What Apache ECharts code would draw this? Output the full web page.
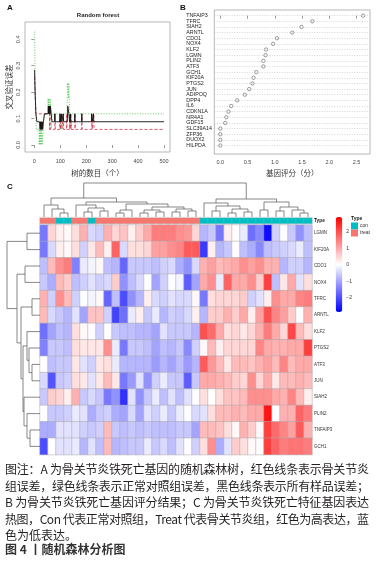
<!DOCTYPE html>
<html>
<head>
<meta charset="utf-8">
<script src="https://cdn.jsdelivr.net/npm/echarts@6/dist/echarts.min.js"></script>
<style>
  html, body { margin: 0; padding: 0; background: #fff; }
  #chart { position: absolute; left: 0; top: 0; width: 386px; height: 564px; }
  .cap { position: absolute; left: 5px; font-family: "Noto Sans CJK SC"; font-size: 12px; line-height: 14px;
         color: #231f20; white-space: nowrap; display: inline-block; }
</style>
</head>
<body>
<div id="chart"></div>
<div id="caption"></div>
<script>
// A: 随机森林误差曲线 [树的数目, 误差]
var conErr = [[1,0.429],[2,0.35],[3,0.26],[4,0.18],[5,0.12],[7,0.12],[8,0.059],[18,0.059],[19,0],[21,0.059],[22,0],[24,0],
  [25,0.059],[26,0],[28,0],[29,0.059],[30,0],[33,0],[34,0.059],[37,0.059],[38,0.118],[52,0.118],[53,0.176],[55,0.118],
  [56,0.176],[59,0.176],[60,0.118],[61,0.176],[63,0.176],[64,0.118],[65,0.059],[68,0.059],[69,0.118],[100,0.118],
  [101,0.059],[103,0.118],[110,0.118],[111,0.059],[112,0.118],[126,0.118],[127,0.176],[128,0.235],[131,0.235],
  [132,0.176],[133,0.235],[135,0.235],[136,0.118],[137,0.059],[139,0.059],[140,0.118],[142,0.118],[143,0.059],
  [144,0.118],[500,0.118]];
var treatErr = [[1,0.258],[2,0.23],[3,0.2],[4,0.17],[5,0.147],[6,0.118],[58,0.118],[59,0.059],[60,0.118],[61,0.059],
  [79,0.059],[80,0.118],[81,0.059],[98,0.059],[99,0.118],[100,0.059],[104,0.059],[105,0.118],[106,0.059],[111,0.059],
  [112,0.118],[113,0.059],[124,0.059],[125,0.118],[126,0.059],[136,0.059],[137,0.118],[138,0.059],[140,0.059],
  [141,0.118],[142,0.059],[156,0.059],[157,0.118],[158,0.059],[182,0.059],[183,0.118],[184,0.059],[221,0.059],
  [222,0.118],[223,0.059],[228,0.059],[229,0.118],[230,0.059],[500,0.059]];
var oobErr = [[1,0.284],[2,0.24],[3,0.2],[4,0.17],[5,0.147],[6,0.118],[9,0.118],[10,0.088],[20,0.088],[22,0.059],
  [24,0.088],[25,0.059],[27,0.088],[28,0.059],[30,0.059],[31,0.088],[32,0.059],[34,0.059],[35,0.088],[38,0.088],
  [39,0.118],[53,0.118],[54,0.147],[55,0.118],[56,0.147],[57,0.118],[58,0.147],[60,0.147],[61,0.118],[62,0.147],
  [64,0.147],[65,0.118],[67,0.118],[68,0.088],[78,0.088],[79,0.118],[80,0.088],[98,0.088],[99,0.118],[100,0.088],
  [103,0.088],[104,0.118],[106,0.088],[110,0.088],[111,0.118],[113,0.088],[127,0.088],[128,0.118],[129,0.147],
  [132,0.147],[133,0.118],[135,0.118],[136,0.088],[138,0.088],[139,0.118],[140,0.088],[155,0.088],[156,0.118],
  [157,0.088],[182,0.088],[183,0.118],[184,0.088],[220,0.088],[221,0.118],[223,0.088],[227,0.088],[228,0.118],
  [229,0.088],[500,0.088]];
var rfTicksX = [0, 100, 200, 300, 400, 500];
var rfTicksY = [0, 0.1, 0.2, 0.3, 0.4];

// B: 基因评分
var scoreGenes = ['TNFAIP3','TFRC','SIAH2','ARNTL','CDO1','NOX4','KLF2','LGMN','PLIN2','ATF3','GCH1','KIF20A',
  'PTGS2','JUN','ADIPOQ','DPP4','IL6','CDKN1A','NR4A1','GDF15','SLC39A14','ZFP36','DUOX2','HILPDA'];
var geneScore = [2.62,1.69,1.49,1.32,1.04,0.97,0.84,0.83,0.79,0.79,0.66,0.61,0.59,0.53,0.45,0.31,0.20,0.15,0.11,0.09,0,0,0,0];
var scoreTicks = [0, 0.5, 1, 1.5, 2, 2.5];

// C: 热图
var heatGenes = ['LGMN','KIF20A','CDO1','NOX4','TFRC','ARNTL','KLF2','PTGS2','ATF3','JUN','SIAH2','PLIN2','TNFAIP3','GCH1'];
var heatRows = [
  [-1.5,0.5,0.2,0.1,0.4,0.9,-0.4,-0.5,0.9,0.5,0.7,0.2,0.6,1.0,1.5,1.5,1.5, 1.3,1.2,0.5,-0.8,-0.6,-1.5,0.2,0,-0.2,-1.6,-1.3,-2.7,-0.5,0,-0.6,-1.2,-0.7],
  [-1.5,-0.4,0.2,0.1,0.4,-0.5,0.3,0.8,0.2,1.8,-0.4,0.4,0.4,0.5,1.1,1.1,1.3, 1.4,1.9,1.9,-2.2,0.2,-0.8,-0.6,0,-0.7,-0.9,-1.3,-0.7,-0.6,-0.5,-0.4,-0.2,-0.7],
  [-0.7,0.8,1.3,1.5,-1.4,-0.2,-0.1,0.1,-0.7,-0.8,-1.7,-0.6,-0.6,-0.6,-0.7,-0.5,-0.4, -0.9,-1.2,-0.4,0.9,1.1,0.8,0.9,1.0,1.3,1.1,1.3,0.9,0.9,-0.8,-0.5,-0.5,-0.8],
  [-0.6,-0.9,0.8,0.6,-0.7,-0.5,-0.3,-0.5,-0.4,0.6,-1.2,-0.7,-0.4,0,-1.0,-0.5,0, -0.1,-1.8,-1.0,1.0,1.3,-0.2,1.8,1.0,1.0,1.3,0.6,2.2,-0.7,0.3,1.0,-0.3,0.4],
  [0.9,-0.5,1.3,0.8,-0.5,0,-0.1,0.1,-1.7,-0.7,-2.0,-1.2,-0.8,0.2,-0.4,-0.5,-0.3, -0.4,-0.4,0.1,-1.5,0.4,0.5,0.5,0.5,0.6,-0.5,-0.3,0.2,1.3,1.0,1.0,1.4,1.5],
  [0.8,-0.4,-0.6,-0.8,-0.3,-1.0,0.7,0.7,-0.5,-2.1,-1.6,-0.2,0.2,-0.6,-0.2,-0.8,-0.5, -0.6,-0.4,0.2,-0.8,0.6,0.6,0.9,0.6,1.0,0.2,1.1,2.0,1.4,1.1,0.6,0,0.9],
  [-1.6,-1.0,-0.7,-0.8,0.4,0.1,0,-0.5,0.05,-0.6,-0.7,-0.7,-0.8,-0.8,-1.0,-0.3,-0.6, -0.6,-0.6,-0.8,2.0,1.7,1.0,0.4,0.5,0.3,0.5,0.9,1.5,1.0,0.5,2.1,0.8,0.4],
  [-1.4,-0.6,-0.6,-0.7,0.4,0.3,0.3,0.3,1.3,-0.2,-1.5,-0.6,-0.6,-0.7,-1.0,-0.7,-0.8, -0.6,-1.3,-0.5,0.1,0.8,0.2,0.5,0.5,0.5,0.5,1.4,1.0,0.9,0.9,1.0,1.0,2.2],
  [0.05,-0.7,-0.6,-0.6,0.3,-0.3,-0.5,0.3,0.4,-0.2,-0.8,-0.8,-0.8,-0.8,-1.1,-0.8,-1.0, -0.7,-1.1,-0.8,1.9,1.2,0.8,0.3,0.8,0.8,0.7,0.9,1.1,0.8,1.4,0.8,1.0,1.0],
  [-0.4,-1.9,-0.6,-0.5,0.4,0.3,-0.3,0.3,0.8,0.3,-1.5,-1.1,-0.3,-1.2,-0.5,-0.2,-0.6, -0.6,-1.8,-0.6,1.0,1.0,0.9,0.8,0.6,0.5,1.3,0.5,1.0,0.3,0.8,0.8,0.9,0.8],
  [-0.6,0.6,0.5,0.2,0.9,-0.6,-0.4,-0.6,-1.5,-1.2,-2.3,-0.3,-1.2,-0.6,-0.2,-0.7,-0.3, -0.7,-0.3,0,0.4,0.05,0.4,0.7,0.7,0.8,1.3,1.3,1.3,1.0,0.9,1.4,0.8,0.2],
  [0,-0.6,-0.6,-0.5,-0.2,-0.3,-0.9,-0.6,-0.5,-0.9,-1.0,-0.4,-1.0,-0.3,-0.5,-0.2,-0.6, -0.2,0,-0.4,-0.3,0.4,0.8,0.8,0.9,0.8,1.0,1.0,2.7,0.05,0.9,0.9,1.8,1.5],
  [-0.9,-0.9,-0.3,-0.3,-0.3,-0.5,-0.6,-0.5,0.8,-0.6,-0.7,-0.6,-0.7,-0.6,-0.7,-0.7,-0.7, -0.6,-0.6,-1.0,0.8,0.8,0.7,0.4,0.1,0.9,0.6,0.1,2.2,1.7,1.4,1.1,1.9,0.9],
  [-2.0,0.05,-0.3,-0.3,-0.2,-0.8,-0.3,-0.7,0.8,-0.8,-0.7,-0.6,-0.6,-0.2,-0.6,-0.4,-0.7, -0.3,0.05,-0.5,0.4,1.3,-0.9,-0.3,0.6,0.4,0.1,0,2.2,1.8,1.5,1.6,1.6,1.5]
];
// 0 = con, 1 = treat
var sampleType = [1,1,0,0,1,1,0,1,1,1,1,1,1,1,1,1,1,1,1,1, 0,0,0,0,0,0,0,0,0,0,0,0,0,0];
var typeNames = ['con', 'treat'];
// 聚类树: [左节点, 右节点, 高度], 叶子为 0..n-1, 第 k 次合并为 n+k
var colTree = [[2,3,4],[1,34,8],[0,35,12],[5,6,5],[7,8,6],[37,38,9],[4,39,12],[9,10,4],[41,11,7],[12,13,4],
  [14,15,5],[43,44,7],[16,17,5],[18,19,6],[46,47,8],[45,48,10],[42,49,13],[40,50,15],[36,51,19],[21,22,6],
  [23,24,4],[25,26,5],[54,55,8],[53,56,11],[20,57,14],[27,28,7],[29,30,6],[32,33,4],[31,61,7],[60,62,10],
  [59,63,15],[58,64,18],[52,65,34]];
var rowTree = [[0,1,13],[2,3,15],[4,5,8],[8,9,8],[7,17,11],[6,18,13],[12,13,10],[11,20,13],[10,21,16],
  [19,22,17],[16,23,19],[15,24,23],[14,25,33]];
var legendTicks = [-2, -1, 0, 1, 2];
var colorMin = -2.85, colorMax = 2.9;

var captionLines = [
  '图注：A 为骨关节炎铁死亡基因的随机森林树，红色线条表示骨关节炎',
  '组误差，绿色线条表示正常对照组误差，黑色线条表示所有样品误差；',
  'B 为骨关节炎铁死亡基因评分结果；C 为骨关节炎铁死亡特征基因表达',
  '热图，Con 代表正常对照组，Treat 代表骨关节炎组，红色为高表达，蓝',
  '色为低表达。'
];

function treeSegments(merges, nLeaf) {
  var pos = [], ht = [], segs = [];
  for (var i = 0; i < nLeaf; i++) { pos[i] = i + 0.5; ht[i] = 0; }
  merges.forEach(function (m, k) {
    var a = m[0], b = m[1], id = nLeaf + k;
    segs.push([pos[a], ht[a], pos[b], ht[b], m[2]]);
    pos[id] = (pos[a] + pos[b]) / 2;
    ht[id] = m[2];
  });
  return segs;
}

var colIdx = sampleType.map(function (t, i) { return String(i); });
var heatData = [];
heatRows.forEach(function (row, r) {
  row.forEach(function (v, c) { heatData.push([c, r, v]); });
});
var typeData = sampleType.map(function (t, c) { return [c, 0, t]; });

var cn = '"Noto Sans CJK SC"';
var axisGrey = '#555';

var chart = echarts.init(document.getElementById('chart'));
chart.setOption({
  animation: false,
  backgroundColor: '#fff',
  textStyle: { fontFamily: '"Liberation Sans", Arial' },
  graphic: [
    { type: 'text', left: 7, top: 4, style: { text: 'A', font: 'bold 8px "Liberation Sans"', fill: '#111' } },
    { type: 'text', left: 180, top: 4, style: { text: 'B', font: 'bold 8px "Liberation Sans"', fill: '#111' } },
    { type: 'text', left: 7, top: 183, style: { text: 'C', font: 'bold 8px "Liberation Sans"', fill: '#111' } },
    { type: 'text', x: 98, y: 15, style: { text: 'Random forest', font: 'bold 6px "Liberation Sans"', fill: '#222', align: 'center', verticalAlign: 'middle' } },
    { type: 'text', x: 351, y: 219, style: { text: 'Type', font: 'bold 5px "Liberation Sans"', fill: '#222', verticalAlign: 'middle' } }
  ],
  grid: [
    { left: 25, top: 22, width: 145, height: 130, show: true, borderColor: '#888', borderWidth: 0.6 },
    { left: 214.3, top: 10, width: 155.7, height: 144, show: true, borderColor: '#888', borderWidth: 0.6 },
    { left: 40, top: 225, width: 272, height: 229.6 },
    { left: 40, top: 218, width: 272, height: 5.5 },
    { left: 40, top: 183, width: 272, height: 34 },
    { left: 5, top: 225, width: 35, height: 229.6 },
    { left: 335.7, top: 217, width: 6.6, height: 95 }
  ],
  xAxis: [
    { gridIndex: 0, type: 'value', min: -36, max: 523, axisLine: { show: false }, splitLine: { show: false },
      axisTick: { customValues: rfTicksX, length: 3, lineStyle: { color: axisGrey, width: 0.6 } },
      axisLabel: { customValues: rfTicksX, fontSize: 5.5, color: '#444', margin: 6 },
      name: '树的数目（个）', nameLocation: 'middle', nameGap: 17,
      nameTextStyle: { fontFamily: cn, fontSize: 7.5, color: '#333' } },
    { gridIndex: 1, type: 'value', min: -0.11, max: 2.747, axisLine: { show: false }, splitLine: { show: false },
      axisTick: { customValues: scoreTicks, length: 3, lineStyle: { color: axisGrey, width: 0.6 } },
      axisLabel: { customValues: scoreTicks, fontSize: 5.5, color: '#444', margin: 5,
        formatter: function (v) { return v.toFixed(1); } },
      name: '基因评分（分）', nameLocation: 'middle', nameGap: 15,
      nameTextStyle: { fontFamily: cn, fontSize: 7.5, color: '#333' } },
    { gridIndex: 2, type: 'category', data: colIdx, show: false },
    { gridIndex: 3, type: 'category', data: colIdx, show: false },
    { gridIndex: 4, type: 'value', min: 0, max: 34, show: false },
    { gridIndex: 5, type: 'value', min: 0, max: 35, inverse: true, show: false },
    { gridIndex: 6, type: 'value', min: 0, max: 1, show: false }
  ],
  yAxis: [
    { gridIndex: 0, type: 'value', min: -0.0265, max: 0.4655, axisLine: { show: false }, splitLine: { show: false },
      axisTick: { customValues: rfTicksY, length: 3, lineStyle: { color: axisGrey, width: 0.6 } },
      axisLabel: { customValues: rfTicksY, fontSize: 5.5, color: '#444', rotate: 90, margin: 4,
        formatter: function (v) { return v.toFixed(1); } },
      name: '交叉验证误差', nameLocation: 'middle', nameGap: 12, nameRotate: 90,
      nameTextStyle: { fontFamily: cn, fontSize: 7.5, color: '#333' } },
    { gridIndex: 1, type: 'value', inverse: true, min: -1, max: 24.5, interval: 1,
      axisLine: { show: false }, axisTick: { show: false }, splitLine: { show: false },
      axisLabel: { fontSize: 5.3, color: '#222', align: 'left', margin: 28,
        formatter: function (v) { return scoreGenes[v] || ''; } } },
    { gridIndex: 2, type: 'category', data: heatGenes, inverse: true, position: 'right',
      axisLine: { show: false }, axisTick: { show: false },
      axisLabel: { fontSize: 4.5, color: '#333', margin: 2 } },
    { gridIndex: 3, type: 'category', data: ['Type'], position: 'right',
      axisLine: { show: false }, axisTick: { show: false },
      axisLabel: { fontSize: 4.8, fontWeight: 'bold', color: '#222', margin: 2 } },
    { gridIndex: 4, type: 'value', min: 0, max: 34, show: false },
    { gridIndex: 5, type: 'value', min: 0, max: 14, inverse: true, show: false },
    { gridIndex: 6, type: 'value', min: colorMin, max: colorMax, position: 'right',
      axisLine: { show: false }, axisTick: { show: false }, splitLine: { show: false },
      axisLabel: { customValues: legendTicks, fontSize: 5, color: '#333', margin: 4,
        formatter: function (v) { return v < 0 ? '\u2212' + (-v) : String(v); } } }
  ],
  visualMap: [
    { type: 'continuous', seriesIndex: 4, min: colorMin, max: colorMax, calculable: false, orient: 'vertical',
      left: 335.7, top: 217, itemWidth: 6.6, itemHeight: 95, padding: 0, text: null, showLabel: false,
      inRange: { color: ['#0000ff', '#ffffff', '#ff0000'] } },
    { type: 'piecewise', seriesIndex: 5, orient: 'vertical', left: 351, top: 222.5, padding: 0,
      itemWidth: 7, itemHeight: 7, itemGap: 0, itemSymbol: 'rect', inverse: true, align: 'left',
      textStyle: { fontSize: 5, color: '#333' }, textGap: 2,
      pieces: [{ value: 0, label: typeNames[0], color: '#00BFC4' }, { value: 1, label: typeNames[1], color: '#F8766D' }] }
  ],
  series: [
    { type: 'line', xAxisIndex: 0, yAxisIndex: 0, data: conErr, showSymbol: false,
      lineStyle: { color: '#3cbf3c', width: 0.8, type: [1, 1.6] } },
    { type: 'line', xAxisIndex: 0, yAxisIndex: 0, data: treatErr, showSymbol: false,
      lineStyle: { color: '#d0304c', width: 0.8, type: [3, 2] } },
    { type: 'line', xAxisIndex: 0, yAxisIndex: 0, data: oobErr, showSymbol: false,
      lineStyle: { color: '#111', width: 0.9 } },
    { type: 'scatter', xAxisIndex: 1, yAxisIndex: 1, symbol: 'circle', symbolSize: 3.4,
      itemStyle: { color: '#fff', borderColor: '#333', borderWidth: 0.6 },
      data: geneScore.map(function (s, i) { return [s, i]; }),
      markLine: { silent: true, symbol: ['none', 'none'], label: { show: false },
        lineStyle: { color: '#bbb', type: [1, 1.5], width: 0.6 },
        data: scoreGenes.map(function (g, i) { return { yAxis: i }; }) } },
    { type: 'heatmap', xAxisIndex: 2, yAxisIndex: 2, data: heatData,
      itemStyle: { borderColor: '#a8a8a8', borderWidth: 0.5 } },
    { type: 'heatmap', xAxisIndex: 3, yAxisIndex: 3, data: typeData,
      itemStyle: { borderColor: '#a8a8a8', borderWidth: 0.4 } },
    { type: 'custom', xAxisIndex: 4, yAxisIndex: 4, data: treeSegments(colTree, sampleType.length),
      renderItem: function (params, api) {
        var pts = [api.coord([api.value(0), api.value(1)]), api.coord([api.value(0), api.value(4)]),
                   api.coord([api.value(2), api.value(4)]), api.coord([api.value(2), api.value(3)])];
        return { type: 'polyline', shape: { points: pts }, style: { stroke: '#555', lineWidth: 0.7, fill: null } };
      } },
    { type: 'custom', xAxisIndex: 5, yAxisIndex: 5, data: treeSegments(rowTree, heatGenes.length),
      renderItem: function (params, api) {
        var pts = [api.coord([api.value(1), api.value(0)]), api.coord([api.value(4), api.value(0)]),
                   api.coord([api.value(4), api.value(2)]), api.coord([api.value(3), api.value(2)])];
        return { type: 'polyline', shape: { points: pts }, style: { stroke: '#555', lineWidth: 0.7, fill: null } };
      } }
  ]
});

// 图注文字（两端对齐）
var capBox = document.getElementById('caption');
var capTops = [462, 478.5, 495, 511.5, 528];
captionLines.forEach(function (t, i) {
  var d = document.createElement('div');
  d.className = 'cap';
  d.style.top = capTops[i] + 'px';
  d.textContent = t;
  capBox.appendChild(d);
  if (i < 4) {
    var w = d.getBoundingClientRect().width;
    d.style.letterSpacing = ((364 - w) / (t.length - 1)) + 'px';
  }
});
var fig = document.createElement('div');
fig.className = 'cap';
fig.style.top = '542px';
fig.style.fontWeight = 'bold';
fig.style.color = '#333';
fig.textContent = '图 4 丨随机森林分析图';
capBox.appendChild(fig);
</script>
</body>
</html>
